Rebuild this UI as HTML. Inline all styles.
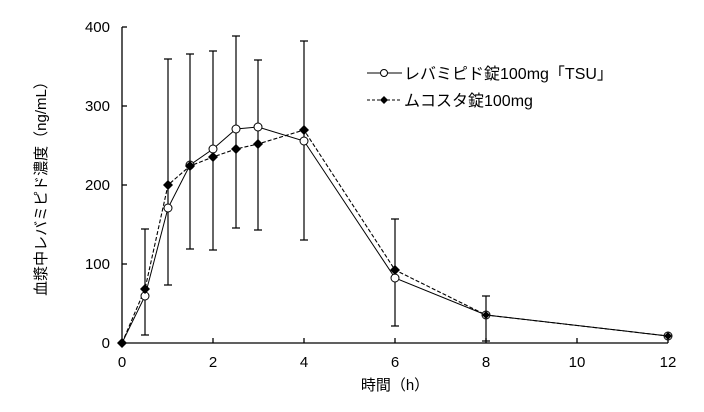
<!DOCTYPE html>
<html><head><meta charset="utf-8"><style>body{margin:0;background:#fff}svg{display:block}text{font-family:"Liberation Sans","Noto Sans CJK JP",sans-serif;font-size:15px;fill:#000}</style></head><body>
<svg width="704" height="412" xmlns="http://www.w3.org/2000/svg">
<g stroke="#000" stroke-width="1.3" fill="none">
<line x1="122" y1="27" x2="122" y2="343"/>
<line x1="122" y1="343" x2="668" y2="343"/>
<line x1="122" y1="27" x2="127" y2="27"/><line x1="122" y1="106" x2="127" y2="106"/><line x1="122" y1="185" x2="127" y2="185"/><line x1="122" y1="264" x2="127" y2="264"/>
<line x1="213" y1="343" x2="213" y2="338"/><line x1="304" y1="343" x2="304" y2="338"/><line x1="395" y1="343" x2="395" y2="338"/><line x1="486" y1="343" x2="486" y2="338"/><line x1="577" y1="343" x2="577" y2="338"/><line x1="668" y1="343" x2="668" y2="338"/>
</g>
<g text-anchor="end"><text x="110" y="348">0</text><text x="110" y="269">100</text><text x="110" y="190">200</text><text x="110" y="111">300</text><text x="110" y="32">400</text></g>
<g text-anchor="middle"><text x="122" y="367">0</text><text x="213" y="367">2</text><text x="304" y="367">4</text><text x="395" y="367">6</text><text x="486" y="367">8</text><text x="577" y="367">10</text><text x="668" y="367">12</text>
<text x="395" y="390">時間（h）</text></g>
<text transform="translate(46,185) rotate(-90)" text-anchor="middle">血漿中レバミピド濃度（ng/mL）</text>
<g stroke="#000" stroke-width="1.2">
<path d="M145 335V229M141 335h8M141 229h8"/>
<path d="M168 285V59M164 285h8M164 59h8"/>
<path d="M190 249V54M186 249h8M186 54h8"/>
<path d="M213 250V51M209 250h8M209 51h8"/>
<path d="M236 228V36M232 228h8M232 36h8"/>
<path d="M258 230V60M254 230h8M254 60h8"/>
<path d="M304 240V41M300 240h8M300 41h8"/>
<path d="M395 326V219M391 326h8M391 219h8"/>
<path d="M486 341V296M482 341h8M482 296h8"/>
</g>
<polyline fill="none" stroke="#000" stroke-width="1.1" stroke-dasharray="4,2" points="122,343 145,289 168,185 190,166 213,157 236,149 258,144 304,130 395,270 486,315 668,336"/>
<polyline fill="none" stroke="#000" stroke-width="1" points="122,343 145,296 168,208 190,165 213,149 236,129 258,127 304,141 395,278 486,315 668,336"/>
<g fill="#fff" stroke="#000" stroke-width="1"><circle cx="145" cy="296" r="4"/><circle cx="168" cy="208" r="4"/><circle cx="190" cy="165" r="4"/><circle cx="213" cy="149" r="4"/><circle cx="236" cy="129" r="4"/><circle cx="258" cy="127" r="4"/><circle cx="304" cy="141" r="4"/><circle cx="395" cy="278" r="4"/><circle cx="486" cy="315" r="4"/><circle cx="668" cy="336" r="4"/></g>
<g fill="#000"><path d="M122 338l5 5-5 5-5-5z"/><path d="M145 284l5 5-5 5-5-5z"/><path d="M168 180l5 5-5 5-5-5z"/><path d="M190 161l5 5-5 5-5-5z"/><path d="M213 152l5 5-5 5-5-5z"/><path d="M236 144l5 5-5 5-5-5z"/><path d="M258 139l5 5-5 5-5-5z"/><path d="M304 125l5 5-5 5-5-5z"/><path d="M395 265l5 5-5 5-5-5z"/><path d="M486 311l4 4-4 4-4-4z"/><path d="M668 332l4 4-4 4-4-4z"/></g>
<line x1="367" y1="73" x2="402" y2="73" stroke="#000" stroke-width="1"/><circle cx="384" cy="73" r="3.5" fill="#fff" stroke="#000"/>
<line x1="367" y1="100" x2="402" y2="100" stroke="#000" stroke-width="1" stroke-dasharray="3,2"/><path d="M384 96l4 4-4 4-4-4z" fill="#000"/>
<text x="404" y="79" style="font-size:16px">レバミピド錠100mg「TSU」</text>
<text x="404" y="106" style="font-size:16px">ムコスタ錠100mg</text>
</svg>
</body></html>
